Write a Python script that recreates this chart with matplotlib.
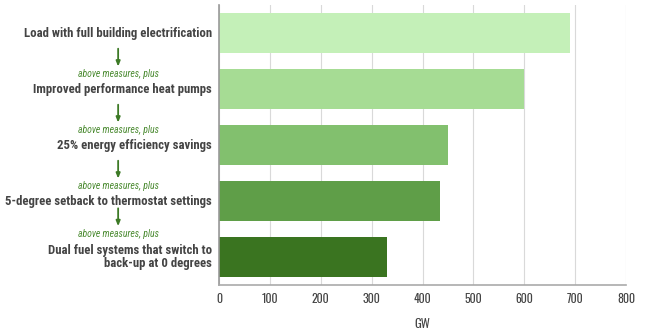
import matplotlib
matplotlib.use("Agg")
import matplotlib.pyplot as plt
import matplotlib.transforms as mtransforms

plt.rcParams['font.family'] = ['Roboto Condensed', 'DejaVu Sans']

scenarios = [
    "Load with full building electrification",
    "Improved performance heat pumps",
    "25% energy efficiency savings",
    "5-degree setback to thermostat settings",
    "Dual fuel systems that switch to\nback-up at 0 degrees",
]
load_gw = [690, 600, 450, 435, 330]
bar_colors = ["#c4f0b8", "#a6dc94", "#82c06e", "#5f9e48", "#3a7420"]
step_note = "above measures, plus"
xticks = [0, 100, 200, 300, 400, 500, 600, 700, 800]

text_col = "#444444"
arrow_col = "#3d7a26"
note_col = "#4a8a30"
tick_font = ['Oswald', 'DejaVu Sans']

fig = plt.figure(figsize=(6.5, 3.33), dpi=100)
ax = fig.add_axes([0.337, 0.144, 0.626, 0.841])

ypos = list(range(len(scenarios)))
ax.barh(ypos, load_gw, height=0.71, color=bar_colors, zorder=2)

ax.set_xlim(0, 800)
ax.set_ylim(4.5, -0.5)
ax.set_xticks(xticks)
ax.set_xticklabels([str(t) for t in xticks], fontsize=8.5, color=text_col,
                   family=tick_font)
ax.set_yticks([])
ax.tick_params(axis='x', length=0, pad=6)
ax.grid(axis='x', color="#d9d9d9", linewidth=0.8, zorder=0)
ax.set_xlabel("GW", fontsize=9, color=text_col, labelpad=9, family=tick_font)

for side in ["top", "right"]:
    ax.spines[side].set_visible(False)
ax.spines["left"].set_color("#999999")
ax.spines["bottom"].set_color("#aaaaaa")
ax.spines["left"].set_linewidth(1.2)
ax.spines["bottom"].set_linewidth(1.2)

# labels sit left of the axes: x in axes fraction, y in data units
trans = mtransforms.blended_transform_factory(ax.transAxes, ax.transData)
label_x = -0.017
arrow_x = -0.248
for i, name in enumerate(scenarios):
    ax.text(label_x, i, name, transform=trans, ha="right", va="center",
            fontsize=9.15, fontweight="bold", color=text_col,
            linespacing=1.0)
    if i > 0:
        note_y = i - 0.27 if i < 4 else i - 0.42
        ax.text(arrow_x, note_y, step_note, transform=trans, ha="center",
                va="center", fontsize=7, style="italic", color=note_col,
                family=['Roboto Condensed', 'DejaVu Sans'])
        ax.annotate("", xy=(arrow_x, note_y - 0.13), xytext=(arrow_x, note_y - 0.45),
                    xycoords=trans, textcoords=trans,
                    arrowprops=dict(arrowstyle="-|>,head_length=0.3,head_width=0.12",
                                    color=arrow_col, lw=1.3,
                                    shrinkA=0, shrinkB=0))

fig.savefig("out.png", dpi=100)
